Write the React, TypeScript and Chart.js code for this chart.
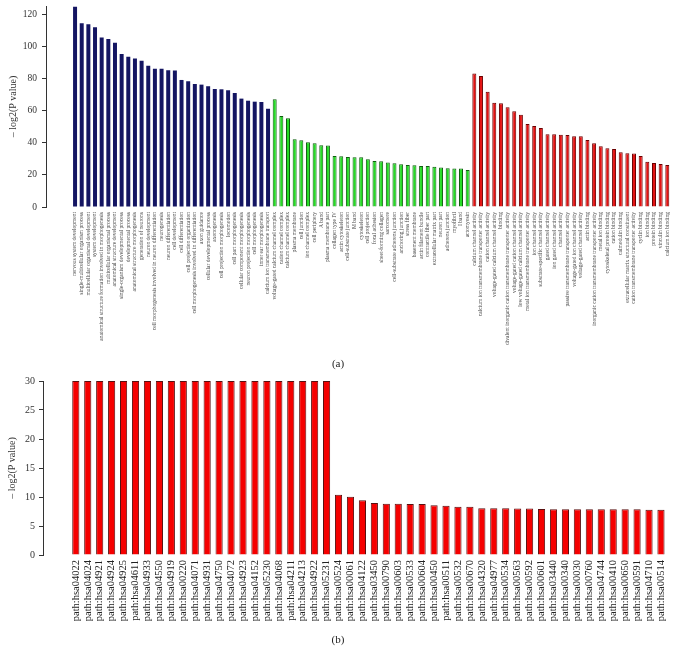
import React, { useEffect, useRef } from 'react';
import { Chart, registerables } from 'chart.js';

Chart.register(...registerables);

// ---------- Data: panel (a) GO enrichment ----------
const bpLabels = [
  'nervous system development',
  'single-multicellular organism process',
  'multicellular organismal development',
  'system development',
  'anatomical structure formation involved in morphogenesis',
  'multicellular organismal process',
  'anatomical structure development',
  'single-organism developmental process',
  'developmental process',
  'anatomical structure morphogenesis',
  'generation of neurons',
  'neuron development',
  'cell morphogenesis involved in neuron differentiation',
  'neurogenesis',
  'neuron differentiation',
  'cell development',
  'cell differentiation',
  'cell projection organization',
  'cell morphogenesis involved in differentiation',
  'axon guidance',
  'cellular developmental process',
  'axonogenesis',
  'cell projection morphogenesis',
  'locomotion',
  'cell part morphogenesis',
  'cellular component morphogenesis',
  'neuron projection morphogenesis',
  'cell morphogenesis',
  'inner ear morphogenesis',
  'calcium ion transmembrane transport',
];
const bpValues = [
  124.6, 114.3, 113.7, 111.8, 105.4, 104.5, 102.2, 95.2, 93.5, 92.3,
  91.0, 87.9, 85.9, 85.9, 85.1, 84.9, 79.0, 78.2, 76.5, 76.1,
  75.1, 73.4, 73.2, 72.6, 70.9, 67.4, 66.1, 65.5, 65.3, 61.1,
];

const ccLabels = [
  'voltage-gated calcium channel complex',
  'cation channel complex',
  'calcium channel complex',
  'plasma membrane',
  'cell junction',
  'ion channel complex',
  'cell periphery',
  'A band',
  'plasma membrane part',
  'collagen type IV',
  'actin cytoskeleton',
  'cell-substrate junction',
  'M band',
  'cytoskeleton',
  'cell projection',
  'focal adhesion',
  'sheet-forming collagen',
  'sarcomere',
  'cell-substrate adherens junction',
  'anchoring junction',
  'stress fiber',
  'basement membrane',
  'actin filament bundle',
  'contractile fiber part',
  'extracellular matrix part',
  'neuron part',
  'adherens junction',
  'myofibril',
  'I band',
  'actomyosin',
];
const ccValues = [
  67.0, 56.6, 55.2, 42.1, 41.5, 40.3, 39.6, 38.4, 38.2, 31.7,
  31.5, 31.1, 30.9, 30.9, 29.7, 28.6, 28.4, 27.6, 27.2, 26.6,
  26.1, 26.0, 25.5, 25.5, 25.1, 24.5, 24.1, 23.9, 23.9, 23.0,
];

const mfLabels = [
  'calcium channel activity',
  'calcium ion transmembrane transporter activity',
  'cation channel activity',
  'voltage-gated calcium channel activity',
  'binding',
  'divalent inorganic cation transmembrane transporter activity',
  'voltage-gated cation channel activity',
  'low voltage-gated calcium channel activity',
  'metal ion transmembrane transporter activity',
  'ion channel activity',
  'substrate-specific channel activity',
  'gated channel activity',
  'ion gated channel activity',
  'channel activity',
  'passive transmembrane transporter activity',
  'voltage-gated ion channel activity',
  'voltage-gated channel activity',
  'actin binding',
  'inorganic cation transmembrane transporter activity',
  'metal ion binding',
  'cytoskeletal protein binding',
  'cation binding',
  'calmodulin binding',
  'extracellular matrix structural constituent',
  'cation transmembrane transporter activity',
  'cyclin binding',
  'ion binding',
  'protein binding',
  'vinculin binding',
  'calcium ion binding',
];
const mfValues = [
  83.0, 81.5, 71.6, 64.9, 64.5, 62.0, 59.5, 57.4, 51.6, 50.4,
  49.2, 45.2, 45.2, 45.0, 44.8, 44.0, 44.0, 41.7, 39.6, 37.8,
  36.5, 36.1, 34.0, 33.4, 33.2, 31.7, 28.2, 27.4, 26.8, 26.1,
];

// ---------- Data: panel (b) KEGG pathways ----------
const keggLabels = [
  'path:hsa04022', 'path:hsa04024', 'path:hsa04921', 'path:hsa04924', 'path:hsa04925',
  'path:hsa04611', 'path:hsa04933', 'path:hsa04550', 'path:hsa04919', 'path:hsa00220',
  'path:hsa04071', 'path:hsa04931', 'path:hsa04750', 'path:hsa04072', 'path:hsa04923',
  'path:hsa04152', 'path:hsa05230', 'path:hsa04068', 'path:hsa04211', 'path:hsa04213',
  'path:hsa04922', 'path:hsa05231', 'path:hsa00524', 'path:hsa00061', 'path:hsa04122',
  'path:hsa03450', 'path:hsa00790', 'path:hsa00603', 'path:hsa00533', 'path:hsa00604',
  'path:hsa00450', 'path:hsa00511', 'path:hsa00532', 'path:hsa00670', 'path:hsa04320',
  'path:hsa04977', 'path:hsa00534', 'path:hsa00563', 'path:hsa00592', 'path:hsa00601',
  'path:hsa03440', 'path:hsa00340', 'path:hsa00030', 'path:hsa00760', 'path:hsa04744',
  'path:hsa00410', 'path:hsa00650', 'path:hsa00591', 'path:hsa04710', 'path:hsa00514',
];
const keggValues = [
  30, 30, 30, 30, 30, 30, 30, 30, 30, 30,
  30, 30, 30, 30, 30, 30, 30, 30, 30, 30,
  30, 30, 10.4, 10.05, 9.43, 8.97, 8.85, 8.85, 8.79, 8.79,
  8.56, 8.5, 8.33, 8.33, 8.05, 8.05, 8.05, 8.0, 8.0, 7.93,
  7.87, 7.87, 7.87, 7.87, 7.87, 7.87, 7.87, 7.87, 7.8, 7.8,
];

// ---------- Styles ----------
const SERIF = '"Liberation Serif", "Times New Roman", serif';
const BLUE = '#141562';
const GREEN = '#25dd25';
const GREEN_EDGE = '#0e5e0e';
const RED = '#e41212';
const RED_EDGE = '#6a0000';
const RED_B = '#f50000';
const RED_B_EDGE = '#5a1010';
const AXIS = '#333333';

type PanelProps = {
  labels: string[];
  values: number[];
  fills: string[];
  edges: string[];
  edgeWidths: number[];
  width: number;
  height: number;
  xMin: number;
  xMax: number;
  yMax: number;
  yStep: number;
  yAxisWidth: number;
  xAxisHeight: number;
  padTop: number;
  padRight: number;
  xFont: number;
  xColor: string;
  yFont: number;
  yTickPad: number;
  titlePad: number;
};

function BarPanel(p: PanelProps) {
  const ref = useRef<HTMLCanvasElement | null>(null);
  useEffect(() => {
    if (!ref.current) return;
    const labels = p.labels;
    const chart = new Chart(ref.current, {
      type: 'bar',
      data: {
        datasets: [
          {
            data: p.values.map((v, i) => ({ x: i, y: v })),
            backgroundColor: p.fills,
            borderColor: p.edges,
            borderWidth: p.edgeWidths,
            barPercentage: 0.6,
            categoryPercentage: 1,
          } as any,
        ],
      },
      options: {
        animation: false,
        responsive: false,
        devicePixelRatio: 1,
        layout: { padding: { top: p.padTop, right: p.padRight, bottom: 0, left: 0 } },
        plugins: { legend: { display: false }, tooltip: { enabled: false } },
        scales: {
          x: {
            type: 'linear',
            min: p.xMin,
            max: p.xMax,
            grid: { display: false, drawTicks: false },
            border: { display: false },
            ticks: {
              stepSize: 1,
              autoSkip: false,
              maxRotation: 90,
              minRotation: 90,
              includeBounds: false,
              padding: 5,
              color: p.xColor,
              font: { family: SERIF, size: p.xFont },
              callback: (v: any) => {
                const n = Number(v);
                return Number.isInteger(n) && n >= 0 && n < labels.length ? labels[n] : '';
              },
            },
            afterFit: (s: any) => {
              s.height = p.xAxisHeight;
              s.paddingLeft = 0;
              s.paddingRight = 0;
            },
          },
          y: {
            min: 0,
            max: p.yMax,
            ticks: {
              stepSize: p.yStep,
              includeBounds: false,
              padding: p.yTickPad,
              color: AXIS,
              font: { family: SERIF, size: p.yFont },
            },
            grid: { display: true, drawOnChartArea: false, drawTicks: true, tickLength: 4, color: AXIS },
            border: { display: true, color: AXIS, width: 1 },
            title: {
              display: true,
              text: '– log2(P value)',
              color: AXIS,
              font: { family: SERIF, size: 10 },
              padding: { top: p.titlePad, bottom: 0 },
            },
            afterFit: (s: any) => {
              s.width = p.yAxisWidth;
              s.paddingTop = 0;
              s.paddingBottom = 0;
            },
          },
        },
      } as any,
    });
    return () => chart.destroy();
  }, []);
  return (
    <canvas
      ref={ref}
      width={p.width}
      height={p.height}
      style={{ display: 'block', width: p.width, height: p.height }}
    />
  );
}

export default function App() {
  const topLabels = [...bpLabels, ...ccLabels, ...mfLabels];
  const topValues = [...bpValues, ...ccValues, ...mfValues];
  const topFills = [
    ...bpValues.map(() => BLUE),
    ...ccValues.map(() => GREEN),
    ...mfValues.map(() => RED),
  ];
  const topEdges = [
    ...bpValues.map(() => BLUE),
    ...ccValues.map(() => GREEN_EDGE),
    ...mfValues.map(() => RED_EDGE),
  ];
  const topEdgeW = [
    ...bpValues.map(() => 0),
    ...ccValues.map(() => 1),
    ...mfValues.map(() => 1),
  ];

  const labelStyle: React.CSSProperties = {
    position: 'absolute',
    width: 40,
    textAlign: 'center',
    fontFamily: SERIF,
    fontSize: 11,
    color: '#222',
    lineHeight: '12px',
  };

  return (
    <div style={{ position: 'absolute', left: 0, top: 0, width: 680, height: 661, background: '#fff', overflow: 'hidden' }}>
      <div style={{ position: 'absolute', left: 0, top: 0 }}>
        <BarPanel
          labels={topLabels}
          values={topValues}
          fills={topFills}
          edges={topEdges}
          edgeWidths={topEdgeW}
          width={680}
          height={370}
          xMin={-3.86}
          xMax={89.5}
          yMax={125}
          yStep={20}
          yAxisWidth={46}
          xAxisHeight={163}
          padTop={6}
          padRight={6}
          xFont={5.5}
          xColor="#444"
          yFont={9.5}
          yTickPad={5}
          titlePad={7}
        />
      </div>
      <div style={{ ...labelStyle, left: 318, top: 357 }}>(a)</div>
      <div style={{ position: 'absolute', left: 0, top: 370 }}>
        <BarPanel
          labels={keggLabels}
          values={keggValues}
          fills={keggValues.map(() => RED_B)}
          edges={keggValues.map(() => RED_B_EDGE)}
          edgeWidths={keggValues.map(() => 1)}
          width={680}
          height={291}
          xMin={-2.24}
          xMax={49.5}
          yMax={30}
          yStep={5}
          yAxisWidth={43}
          xAxisHeight={106}
          padTop={11}
          padRight={7}
          xFont={10.5}
          xColor="#222"
          yFont={10}
          yTickPad={4}
          titlePad={6}
        />
      </div>
      <div style={{ ...labelStyle, left: 318, top: 633 }}>(b)</div>
    </div>
  );
}
